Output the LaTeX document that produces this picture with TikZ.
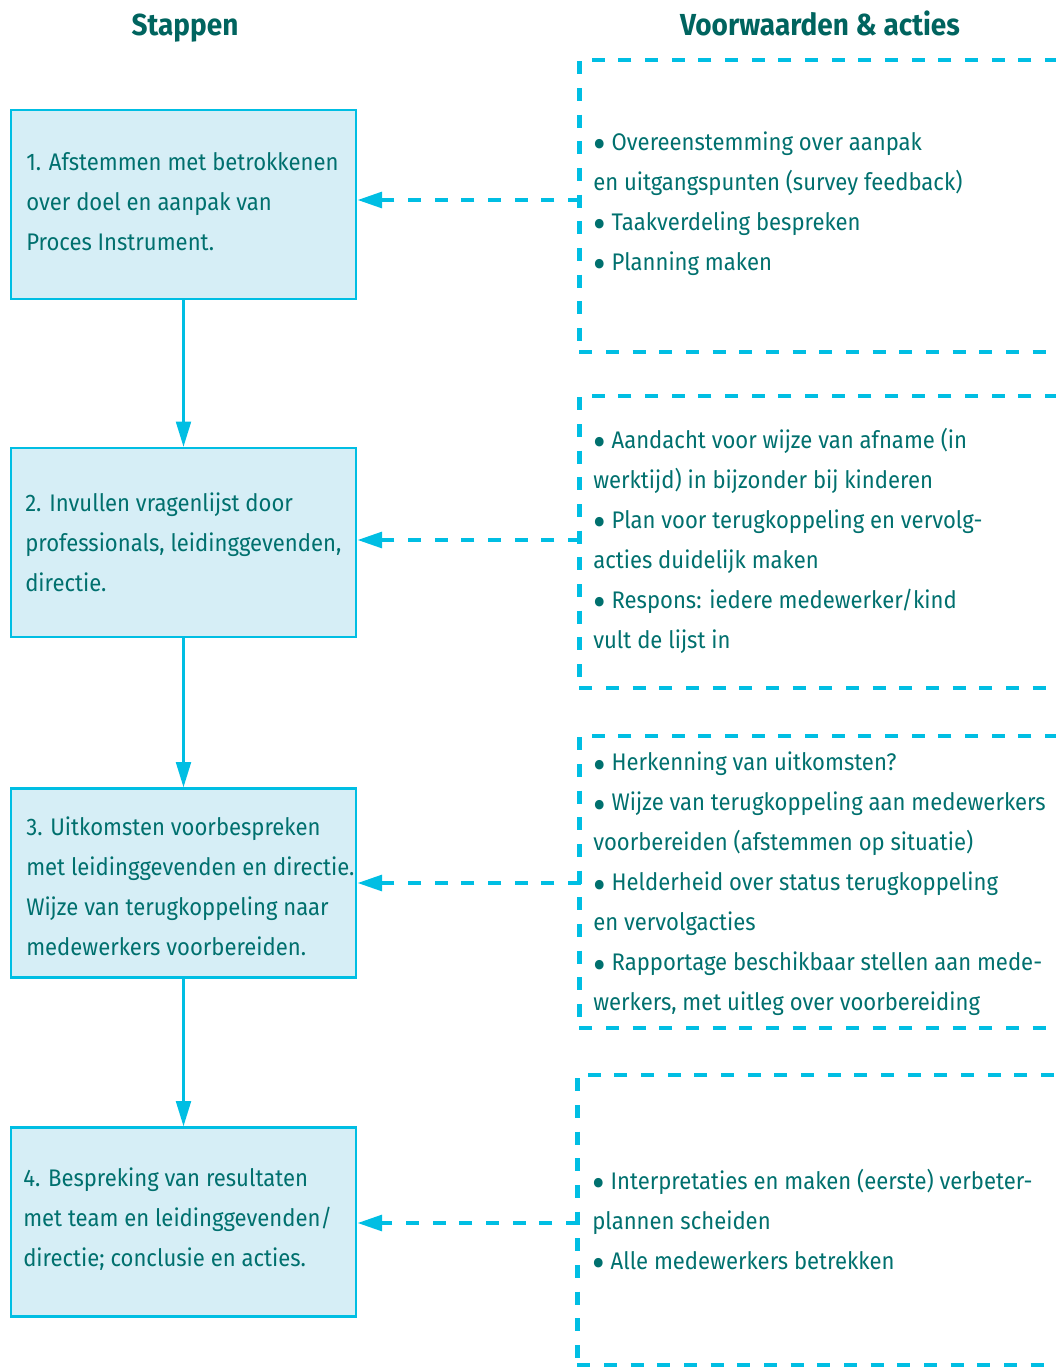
\documentclass[tikz,border=0pt]{standalone}
\usepackage{fontspec}
\setmainfont{Fira Sans}[FakeStretch=0.92]
\usetikzlibrary{arrows.meta}
\definecolor{cyanL}{HTML}{00BEE3}
\definecolor{fillL}{HTML}{D6EEF6}
\definecolor{tealT}{HTML}{00706E}
\definecolor{tealH}{HTML}{00645F}
\newcommand\blt{\raisebox{-0.65ex}{\scalebox{1.75}{\textbullet}}}
\begin{document}
\begin{tikzpicture}[x=0.75pt,y=-0.75pt,
 stepbox/.style={draw=cyanL,fill=fillL,line width=1.6pt,minimum width=258.75pt,minimum height=141.75pt,inner sep=0pt},
 condbox/.style={draw=cyanL,line width=3.5pt,dash pattern=on 9.75pt off 10.25pt,minimum width=390pt,minimum height=219pt,inner sep=0pt,anchor=west},
 txt/.style={anchor=west,align=left,text=tealT,font=\fontsize{18}{30}\selectfont,inner sep=0pt},
 head/.style={text=tealH,font=\fontsize{22.8}{25}\selectfont\bfseries,inner sep=0pt,anchor=base},
 varr/.style={draw=cyanL,line width=2.25pt,-{Triangle[length=19pt,width=11pt]}},
 harr/.style={draw=cyanL,line width=3.5pt,dash pattern=on 9.75pt off 10.25pt,-{Triangle[length=18.75pt,width=11.5pt]}}
]
\clip (0,0) rectangle (1056,1367);
% headings
\node[head] (h1) at (185,36) {Stappen};
\node[head] (h2) at (820,36) {Voorwaarden \& acties};
% step boxes
\node[stepbox] (s1) at (183.5,204.5) {};
\node[stepbox] (s2) at (183.5,542.5) {};
\node[stepbox] (s3) at (183.5,883) {};
\node[stepbox] (s4) at (183.5,1222) {};
% condition boxes
\node[condbox] (c1) at (577,206) {};
\node[condbox] (c2) at (577,542) {};
\node[condbox] (c3) at (577,882) {};
\node[condbox,minimum height=217.5pt] (c4) at (575,1220) {};
% step texts
\node[txt] (t1) at (26,202) {1. Afstemmen met betrokkenen\\over doel en aanpak van\\Proces Instrument.};
\node[txt] (t2) at (25,542) {2. Invullen vragenlijst door\\professionals, leidinggevenden,\\directie.};
\node[txt] (t3) at (26,886) {3. Uitkomsten voorbespreken\\met leidinggevenden en directie.\\Wijze van terugkoppeling naar\\medewerkers voorbereiden.};
\node[txt] (t4) at (23,1219) {4. Bespreking van resultaten\\met team en leidinggevenden/\\directie; conclusie en acties.};
% condition texts
\node[txt] (r1) at (593,205) {\blt{} Overeenstemming over aanpak\\en uitgangspunten (survey feedback)\\\blt{} Taakverdeling bespreken\\\blt{} Planning maken};
\node[txt] (r2) at (593,541) {\blt{} Aandacht voor wijze van afname (in\\werktijd) in bijzonder bij kinderen\\\blt{} Plan voor terugkoppeling en vervolg-\\acties duidelijk maken\\\blt{} Respons: iedere medewerker/kind\\vult de lijst in};
\node[txt] (r3) at (593,884) {\blt{} Herkenning van uitkomsten?\\\blt{} Wijze van terugkoppeling aan medewerkers\\voorbereiden (afstemmen op situatie)\\\blt{} Helderheid over status terugkoppeling\\en vervolgacties\\\blt{} Rapportage beschikbaar stellen aan mede-\\werkers, met uitleg over voorbereiding};
\node[txt] (r4) at (592,1223) {\blt{} Interpretaties en maken (eerste) verbeter-\\plannen scheiden\\\blt{} Alle medewerkers betrekken};
% vertical arrows
\draw[varr] (s1) -- (s2);
\draw[varr] (s2) -- (s3);
\draw[varr] (s3) -- (s4);
% horizontal dashed arrows
\draw[harr] ([xshift=3pt]c1.west |- 0,200) -- (s1.east |- 0,200);
\draw[harr] ([xshift=3pt]c2.west |- 0,540) -- (s2.east |- 0,540);
\draw[harr] ([xshift=3pt]c3.west |- 0,883) -- (s3.east |- 0,883);
\draw[harr] ([xshift=3pt]c4.west |- 0,1223) -- (s4.east |- 0,1223);
\end{tikzpicture}
\end{document}
